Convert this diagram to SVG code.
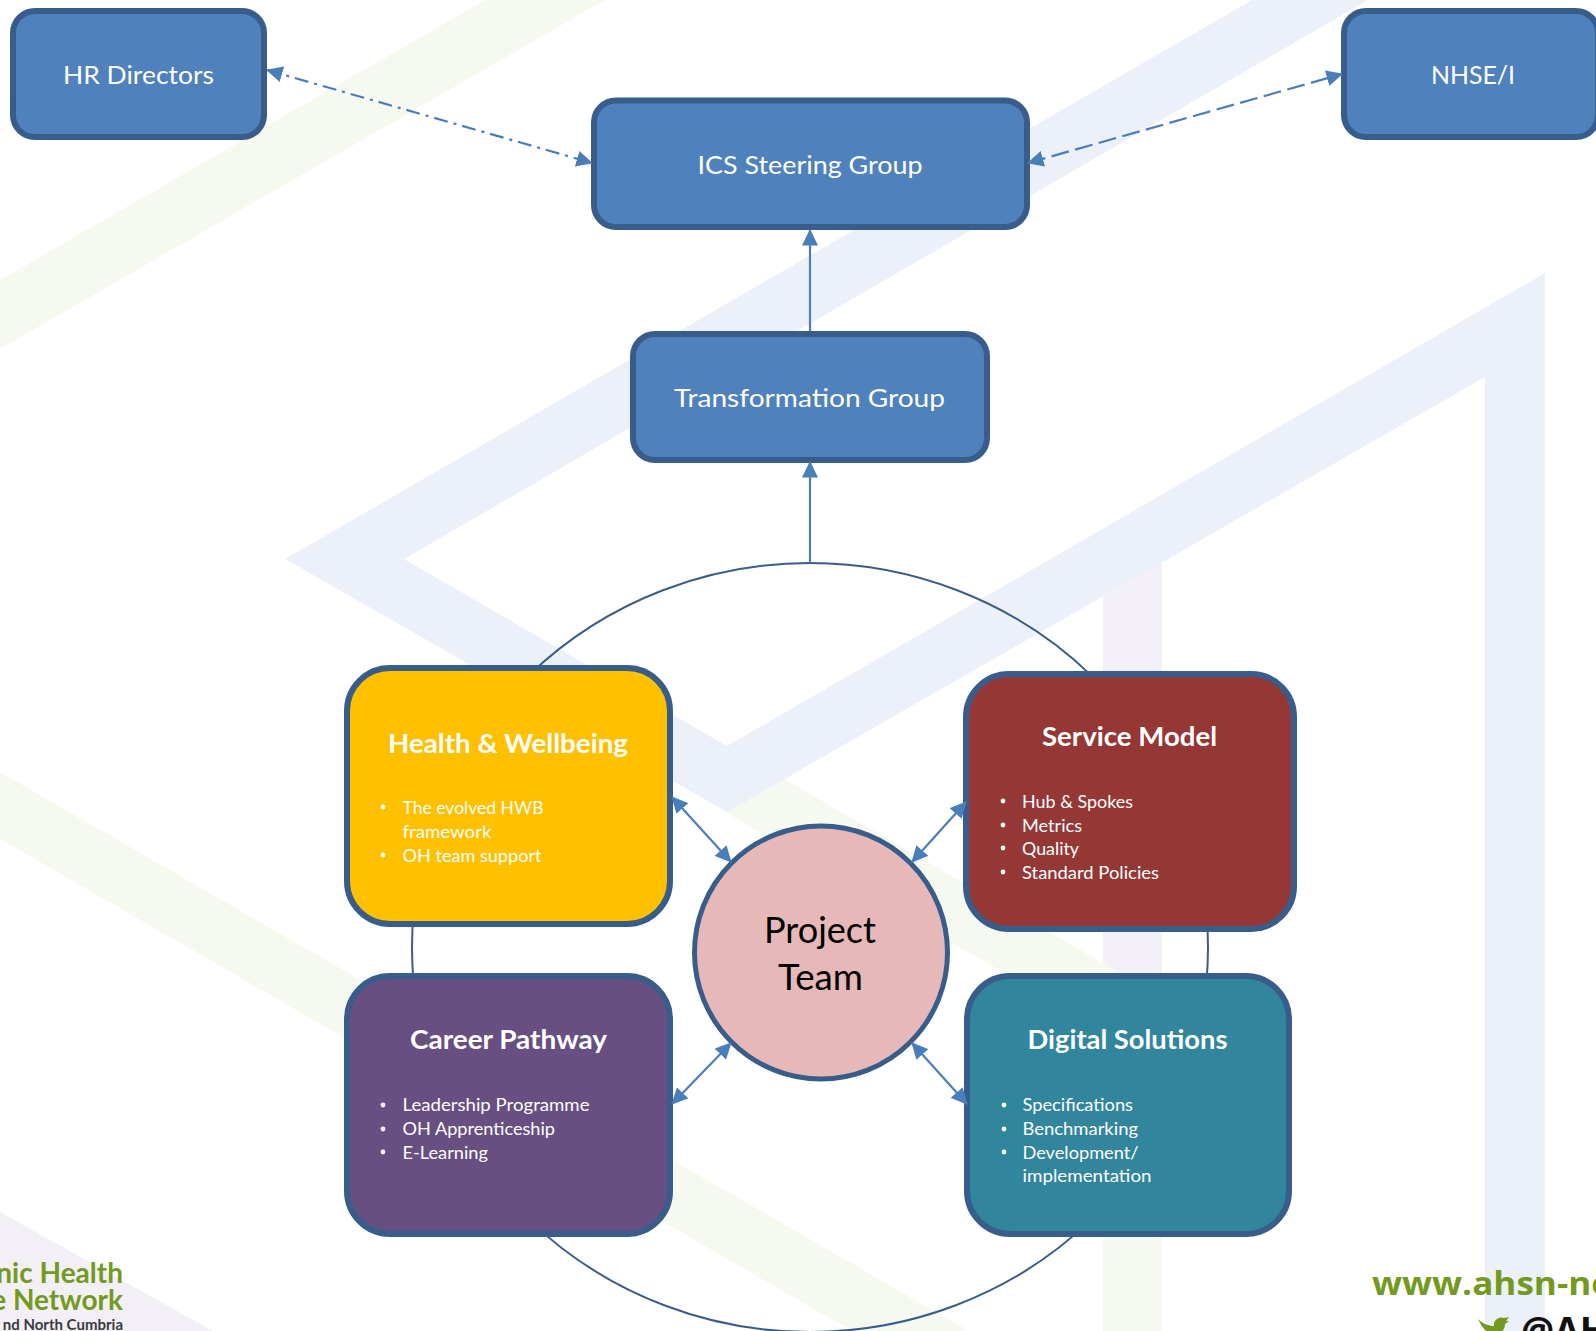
<svg xmlns="http://www.w3.org/2000/svg" width="1596" height="1331" viewBox="0 0 1596 1331">
<style>
text{font-family:Lato,"Liberation Sans",sans-serif;fill:#fff}
.main{font-size:25px;text-anchor:middle}
.title{font-size:26px;font-weight:700;text-anchor:middle}
.item{font-size:17.5px}
.blue{fill:#4f81bd;stroke:#385d8a;stroke-width:6}
.big{stroke:#385d8a;stroke-width:6}
.link{fill:none;stroke:#4a7ebb;stroke-width:2.2;marker-end:url(#head);marker-start:url(#head)}
.up{fill:none;stroke:#4a7ebb;stroke-width:2.2;marker-end:url(#head)}
.dot{fill:#fff}
</style>
<defs>
<marker id="head" markerUnits="userSpaceOnUse" markerWidth="18" markerHeight="16" refX="15.5" refY="8" orient="auto-start-reverse"><path d="M0 0L16.5 8L0 16Z" fill="#4a7ebb"/></marker>
</defs>
<rect width="1596" height="1331" fill="#fff"/>
<g id="background">
<polygon points="485,0 605,0 0,349 0,280" fill="#f6f9ef"/>
<polygon points="0,772 969,1331 852,1331 0,839" fill="#f6f9ef"/>
<polygon points="0,1212 213,1331 0,1331" fill="#f2eff7"/>
<polygon points="1103,595 1162,561 1162,997 1103,963" fill="#f4f0f8"/>
<polygon points="727,746 1162,997 1162,1331 1103,1331 1103,1030 727,813" fill="#f6f9ef"/>
<polygon points="1545,273 1545,1331 1485,1331 1485,377 727,812 285,559 1252,0 1368,0 404,559 727,746" fill="#ecf0f9"/>
</g>
<g id="logos">
<text x="123" y="1283" text-anchor="end" style="font-size:28px;font-weight:700;fill:#739a1e">nic Health</text>
<text x="123" y="1310" text-anchor="end" style="font-size:28px;font-weight:700;fill:#739a1e">e Network</text>
<text x="123" y="1330" text-anchor="end" style="font-size:15px;font-weight:700;fill:#3a3a3a">nd North Cumbria</text>
<text x="1372" y="1295" textLength="240" lengthAdjust="spacingAndGlyphs" style="font-family:'Open Sans',sans-serif;font-size:32px;font-weight:700;fill:#739a1e">www.ahsn-ne</text>
<path d="M1478 1319C1483 1324 1489 1326 1494 1326C1493 1320 1499 1316 1504 1318L1509 1317L1506 1321L1509 1321L1505 1324C1505 1328 1503 1331 1502 1331L1486 1331C1483 1328 1480 1324 1478 1319Z" fill="#739a1e"/>
<text x="1521" y="1344" style="font-family:'Open Sans',sans-serif;font-size:37px;font-weight:700;fill:#111">@AH</text>
</g>
<g id="ring">
<ellipse cx="810" cy="947.5" rx="398" ry="384.5" fill="none" stroke="#385d8a" stroke-width="2"/>
</g>
<g id="hr-directors"><rect class="blue" x="13" y="11" width="251" height="126" rx="22"/>
<text class="main" x="138.5" y="84" textLength="151" lengthAdjust="spacingAndGlyphs">HR Directors</text></g>
<g id="nhse-i"><rect class="blue" x="1344" y="11" width="254" height="126" rx="22"/>
<text class="main" x="1473" y="84" textLength="84" lengthAdjust="spacingAndGlyphs">NHSE/I</text></g>
<g id="ics-steering-group"><rect class="blue" x="594" y="100.500" width="433" height="126.500" rx="22"/>
<text class="main" x="810" y="174" textLength="225" lengthAdjust="spacingAndGlyphs">ICS Steering Group</text></g>
<g id="transformation-group"><rect class="blue" x="633" y="334" width="354" height="126" rx="22"/>
<text class="main" x="809.5" y="407" textLength="271" lengthAdjust="spacingAndGlyphs">Transformation Group</text></g>
<g id="health-wellbeing"><rect class="big" x="347" y="668" width="323" height="256" rx="43" fill="#ffc000"/>
<text class="title" x="508" y="752.500" textLength="240" lengthAdjust="spacingAndGlyphs">Health &amp; Wellbeing</text>
<circle class="dot" cx="383" cy="807" r="2.4"/><circle class="dot" cx="383" cy="855" r="2.4"/>
<text class="item" x="402.500" y="814" textLength="141" lengthAdjust="spacingAndGlyphs">The evolved HWB</text>
<text class="item" x="402.500" y="838" textLength="89" lengthAdjust="spacingAndGlyphs">framework</text>
<text class="item" x="402.500" y="862" textLength="139" lengthAdjust="spacingAndGlyphs">OH team support</text></g>
<g id="service-model"><rect class="big" x="966" y="674" width="328" height="255" rx="43" fill="#953735"/>
<text class="title" x="1129.5" y="746" textLength="175" lengthAdjust="spacingAndGlyphs">Service Model</text>
<circle class="dot" cx="1003" cy="801" r="2.4"/><circle class="dot" cx="1003" cy="825" r="2.4"/><circle class="dot" cx="1003" cy="848" r="2.4"/><circle class="dot" cx="1003" cy="872" r="2.4"/>
<text class="item" x="1022" y="808" textLength="111" lengthAdjust="spacingAndGlyphs">Hub &amp; Spokes</text>
<text class="item" x="1022" y="832" textLength="60" lengthAdjust="spacingAndGlyphs">Metrics</text>
<text class="item" x="1022" y="855" textLength="57" lengthAdjust="spacingAndGlyphs">Quality</text>
<text class="item" x="1022" y="879" textLength="137" lengthAdjust="spacingAndGlyphs">Standard Policies</text></g>
<g id="career-pathway"><rect class="big" x="347" y="976" width="323" height="258" rx="43" fill="#674f82"/>
<text class="title" x="508.500" y="1049" textLength="197" lengthAdjust="spacingAndGlyphs">Career Pathway</text>
<circle class="dot" cx="383" cy="1105" r="2.4"/><circle class="dot" cx="383" cy="1129" r="2.4"/><circle class="dot" cx="383" cy="1152" r="2.4"/>
<text class="item" x="402.500" y="1111" textLength="187" lengthAdjust="spacingAndGlyphs">Leadership Programme</text>
<text class="item" x="402.500" y="1135" textLength="152.500" lengthAdjust="spacingAndGlyphs">OH Apprenticeship</text>
<text class="item" x="402.500" y="1159" textLength="85.500" lengthAdjust="spacingAndGlyphs">E-Learning</text></g>
<g id="digital-solutions"><rect class="big" x="967" y="976" width="322" height="258" rx="43" fill="#31859c"/>
<text class="title" x="1127.500" y="1049" textLength="200" lengthAdjust="spacingAndGlyphs">Digital Solutions</text>
<circle class="dot" cx="1004" cy="1105" r="2.4"/><circle class="dot" cx="1004" cy="1129" r="2.4"/><circle class="dot" cx="1004" cy="1152" r="2.4"/>
<text class="item" x="1022.500" y="1111" textLength="110.500" lengthAdjust="spacingAndGlyphs">Specifications</text>
<text class="item" x="1022.500" y="1135" textLength="115.500" lengthAdjust="spacingAndGlyphs">Benchmarking</text>
<text class="item" x="1022.500" y="1159" textLength="116" lengthAdjust="spacingAndGlyphs">Development/</text>
<text class="item" x="1022.500" y="1182" textLength="129" lengthAdjust="spacingAndGlyphs">implementation</text></g>
<g id="project-team"><circle cx="821" cy="952.5" r="126.5" fill="#e6b9b8" stroke="#385d8a" stroke-width="5"/>
<text x="820" y="943" text-anchor="middle" textLength="112" lengthAdjust="spacingAndGlyphs" style="fill:#000;font-size:36px">Project</text>
<text x="820.500" y="990" text-anchor="middle" textLength="85" lengthAdjust="spacingAndGlyphs" style="fill:#000;font-size:36px">Team</text></g>
<g id="connectors">
<line class="up" x1="810" y1="563" x2="810" y2="462"/>
<line class="up" x1="810" y1="331" x2="810" y2="230"/>
<line class="link" x1="267" y1="70" x2="592" y2="163" stroke-dasharray="14 6 3 6"/>
<line class="link" x1="1028" y1="163" x2="1342" y2="74" stroke-dasharray="18 6.500"/>
<line class="link" x1="672" y1="797" x2="731" y2="862"/>
<line class="link" x1="966" y1="802" x2="912" y2="862"/>
<line class="link" x1="731" y1="1043" x2="672" y2="1104"/>
<line class="link" x1="912" y1="1043" x2="967" y2="1104"/>
</g>
</svg>
